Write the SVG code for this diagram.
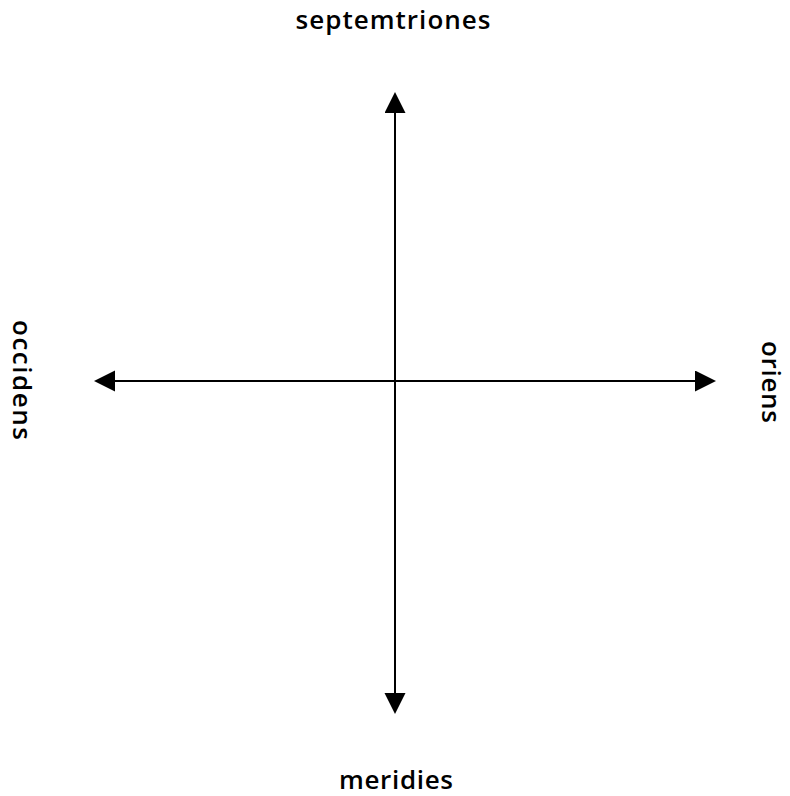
<svg xmlns="http://www.w3.org/2000/svg" width="790" height="796" viewBox="0 0 790 796">
<style>
.lbl{font-family:"Open Sans","Liberation Sans",sans-serif;font-size:26px;font-weight:600;fill:#000;text-anchor:middle}
.ax{stroke:#000;stroke-width:2;fill:none}
</style>
<defs>
<marker id="ah" markerUnits="userSpaceOnUse" markerWidth="22" markerHeight="22" refX="0" refY="10.5" orient="auto-start-reverse">
<path d="M0,0 L21,10.5 L0,21 z" fill="#000"/>
</marker>
</defs>
<rect width="790" height="796" fill="#fff"/>
<g id="connectors">
<line class="ax" x1="395" y1="113" x2="395" y2="693" marker-start="url(#ah)" marker-end="url(#ah)"/>
<line class="ax" x1="115" y1="381" x2="695" y2="381" marker-start="url(#ah)" marker-end="url(#ah)"/>
</g>
<g id="north"><text class="lbl" x="393" y="29" textLength="195">septemtriones</text></g>
<g id="south"><text class="lbl" x="396" y="789" textLength="114">meridies</text></g>
<g id="west"><text class="lbl" transform="translate(13,380) rotate(90)" textLength="120">occidens</text></g>
<g id="east"><text class="lbl" transform="translate(762,382) rotate(90)" textLength="82">oriens</text></g>
</svg>
